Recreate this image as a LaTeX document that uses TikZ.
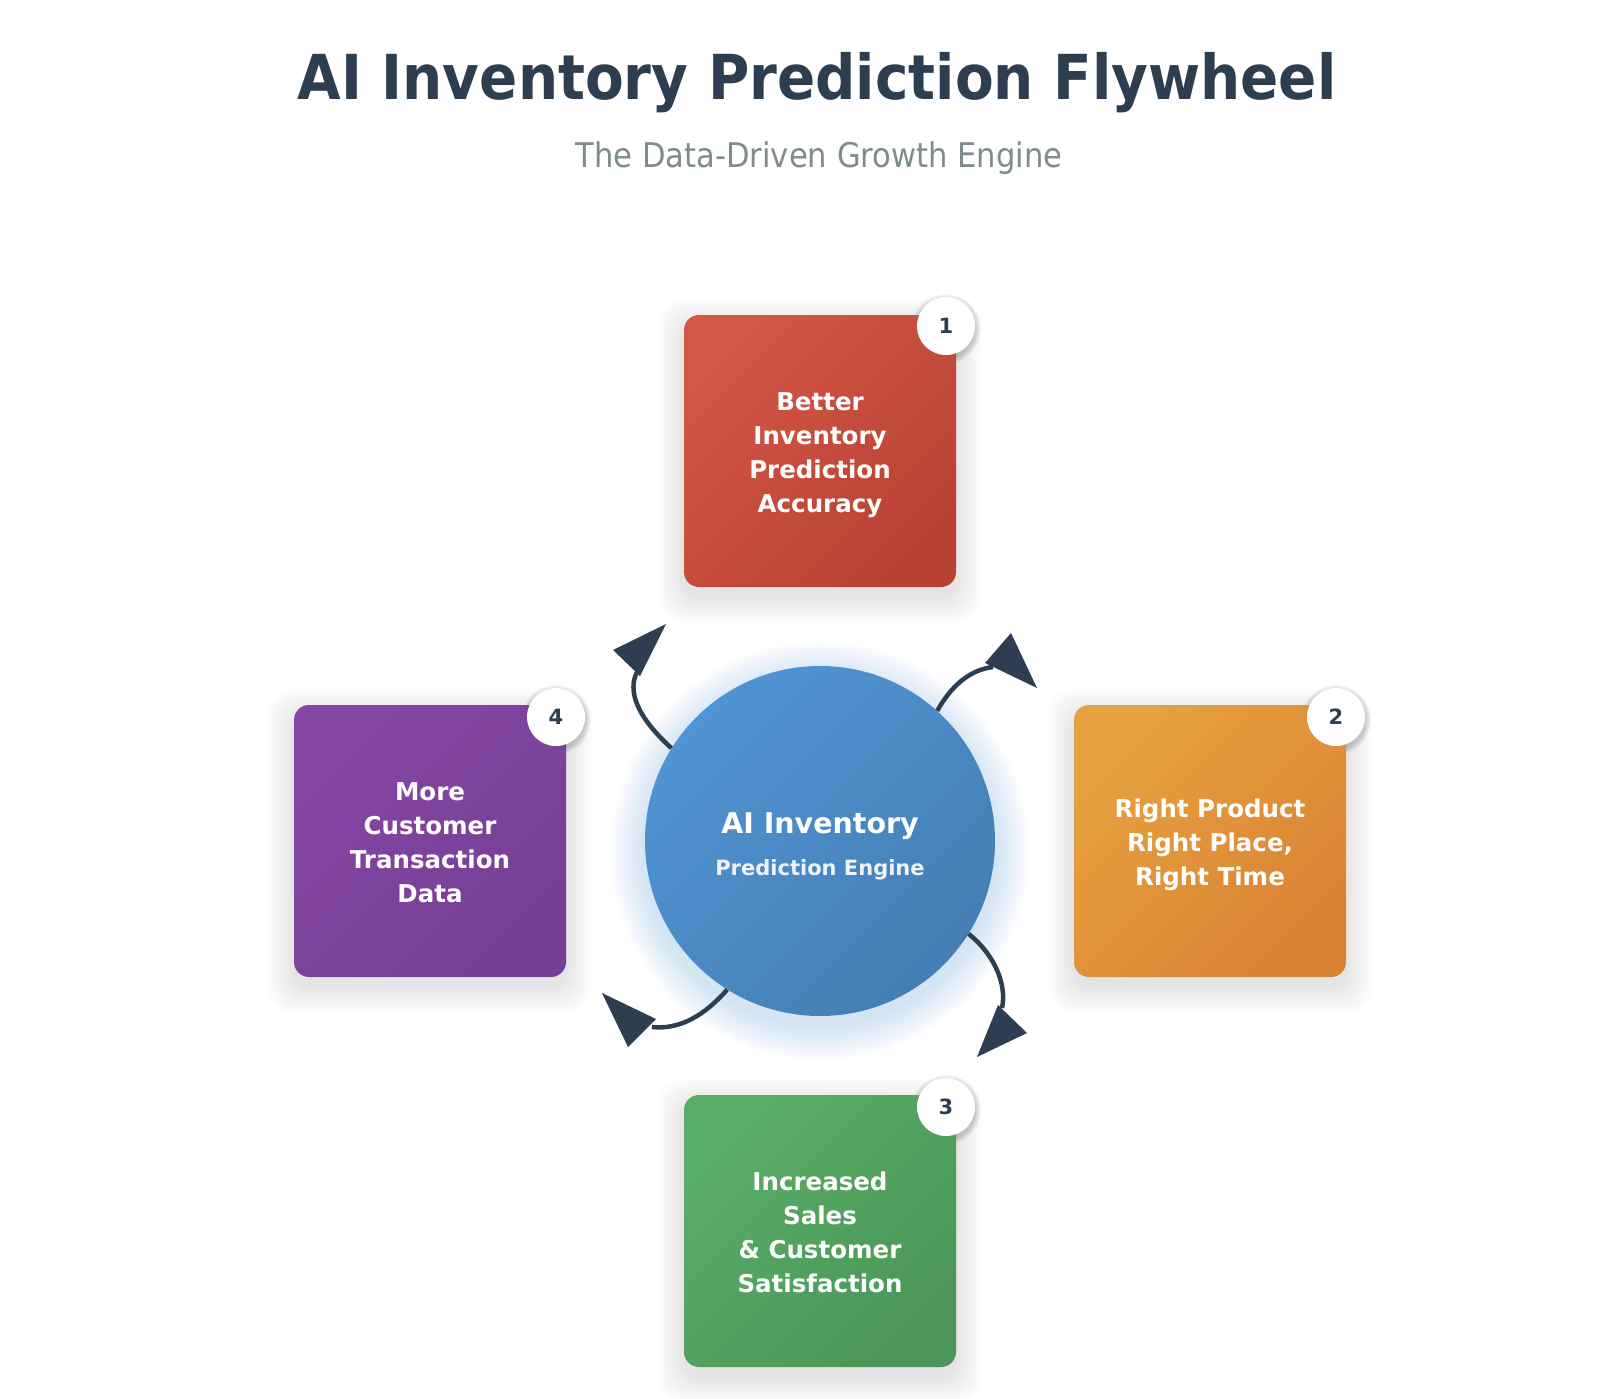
\documentclass[tikz,border=0pt]{standalone}
\usepackage{fontspec}
\setmainfont{DejaVu Sans}
\newfontfamily\headfont{DejaVu Sans}[FakeStretch=0.91]
\newfontfamily\subfont{DejaVu Sans}[FakeStretch=0.9]
\usepackage{tikz}

\definecolor{darkslate}{RGB}{44,62,80}
\definecolor{slategray}{RGB}{127,140,141}
\definecolor{flyred1}{RGB}{212,86,68}
\definecolor{flyred2}{RGB}{183,66,52}
\definecolor{flyorange1}{RGB}{230,162,62}
\definecolor{flyorange2}{RGB}{218,130,52}
\definecolor{flygreen1}{RGB}{90,173,103}
\definecolor{flygreen2}{RGB}{75,150,88}
\definecolor{flypurple1}{RGB}{134,70,165}
\definecolor{flypurple2}{RGB}{116,63,148}
\definecolor{engblue1}{RGB}{80,148,212}
\definecolor{engblue2}{RGB}{68,126,180}
\definecolor{glowblue}{RGB}{74,144,226}

\newcommand{\stagestrut}{\rule{0pt}{29pt}}

\begin{document}
\begin{tikzpicture}
	% Styles
	[
	x=1pt, y=-1pt,
	stage/.style={rounded corners=15pt, minimum size=272pt, inner sep=0pt, align=center, text=white, font=\fontsize{24.5}{33.8}\selectfont\bfseries, execute at end node={\rule[-8pt]{0pt}{8pt}}},
	badge/.style={circle, fill=white, minimum size=58pt, inner sep=0pt, text=darkslate, font=\fontsize{21}{21}\selectfont\bfseries},
	hub/.style={circle, minimum size=350pt, inner sep=0pt, top color=engblue1, bottom color=engblue2, shading angle=45},
	cycleline/.style={draw=darkslate, line width=4.5pt},
	cyclehead/.style={fill=darkslate},
	]

	% Background
	\fill[white] (0,0) rectangle (1600,1399);
	\useasboundingbox (0,0) rectangle (1600,1399);

	% Title
	\node at (817,100) (title) [anchor=base, text=darkslate, font=\headfont\fontsize{62}{70}\selectfont\bfseries] {AI Inventory Prediction Flywheel};
	\node at (819,168) (subtitle) [anchor=base, text=slategray, font=\subfont\fontsize{34}{40}\selectfont] {The Data-Driven Growth Engine};

	% Shadows and glow
	\foreach \cx/\cy in {820/451, 1210/841, 820/1231, 430/841}
		\foreach \s in {2,4,...,26}
			\fill[black, opacity=0.009, rounded corners=24pt] (\cx-136-\s,\cy-126-\s) rectangle (\cx+136+\s,\cy+146+\s);
	\foreach \cx/\cy in {946/326, 1336/717, 946/1107, 556/717}
		\foreach \s in {1,...,6}
			\fill[black, opacity=0.03] (\cx,\cy+3) circle (29+\s);
	\foreach \r in {176,179,...,209}
		\fill[glowblue, opacity=0.018] (820,851) circle (\r);

	% Nodes
	\node at (820,841)	(engine)	[hub] {};
	\node at (820,833)	(hubname)	[anchor=base, text=white, font=\fontsize{28.5}{34}\selectfont\bfseries] {AI Inventory};
	\node at (820,875)	(hubrole)	[anchor=base, text=white, text opacity=0.9, font=\fontsize{21}{25}\selectfont\bfseries] {Prediction Engine};

	\node at (820,451)	(accuracy)	[stage, top color=flyred1, bottom color=flyred2, shading angle=45] {\stagestrut Better\\Inventory\\Prediction\\Accuracy};
	\node at (1210,841)	(timing)	[stage, top color=flyorange1, bottom color=flyorange2, shading angle=45] {\stagestrut Right Product\\Right Place,\\Right Time};
	\node at (820,1231)	(sales)		[stage, top color=flygreen1, bottom color=flygreen2, shading angle=45] {\stagestrut Increased\\Sales\\\& Customer\\Satisfaction};
	\node at (430,841)	(data)		[stage, top color=flypurple1, bottom color=flypurple2, shading angle=45] {\stagestrut More\\Customer\\Transaction\\Data};

	\node at (946,326)	(b1)	[badge] {1};
	\node at (1336,717)	(b2)	[badge] {2};
	\node at (946,1107)	(b3)	[badge] {3};
	\node at (556,717)	(b4)	[badge] {4};

	\coordinate (e1) at (637,672);
	\coordinate (e2) at (993,667);
	\coordinate (e3) at (1002,1008);
	\coordinate (e4) at (652,1027);

	% Connections
	\draw[cycleline] (engine.148) .. controls (635,715) and (628,690) .. (e1);
	\draw[cycleline] (engine.48) .. controls (950,688) and (968,670) .. (e2);
	\draw[cycleline] (engine.-32) .. controls (995,955) and (1007,985) .. (e3);
	\draw[cycleline] (engine.-122) .. controls (705,1015) and (680,1030) .. (e4);

	\fill[cyclehead] (666,624) -- (613,650) -- (640,676) -- cycle;
	\fill[cyclehead] (1037,688) -- (985,663) -- (1011,633) -- cycle;
	\fill[cyclehead] (977,1057) -- (998,1005) -- (1027,1033) -- cycle;
	\fill[cyclehead] (602,993) -- (656,1019) -- (628,1047) -- cycle;

\end{tikzpicture}
\end{document}
